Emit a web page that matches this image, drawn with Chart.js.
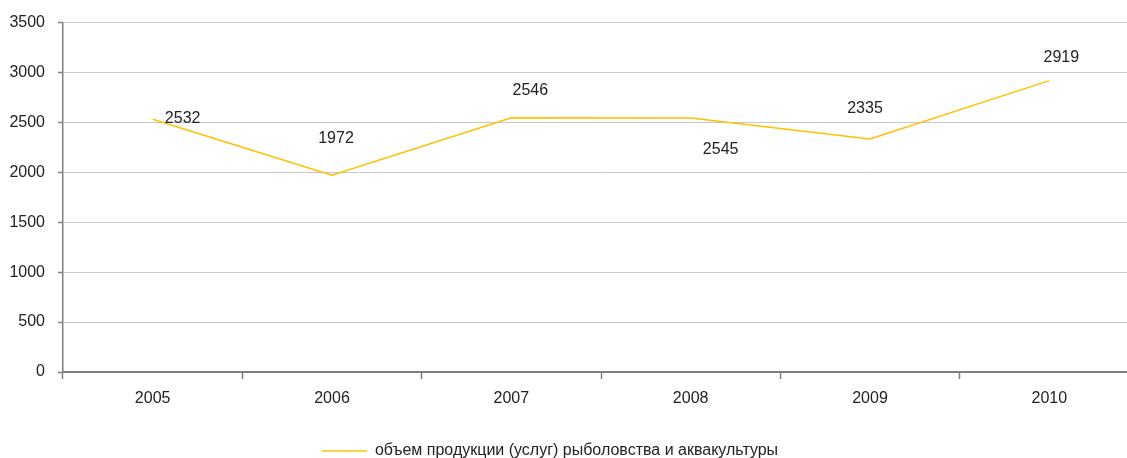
<!DOCTYPE html>
<html>
<head>
<meta charset="utf-8">
<script src="https://cdn.jsdelivr.net/npm/chart.js@4/dist/chart.umd.min.js"></script>
<style>
  html, body { margin:0; padding:0; background:#fff; overflow:hidden; }
  #wrap { width:1127px; height:458px; overflow:hidden; position:relative; }
  #fishChart { position:absolute; left:-39px; top:0; }
</style>
</head>
<body>
<div id="wrap"><canvas id="fishChart" width="1178" height="469"></canvas></div>
<script>
const years = ['2005', '2006', '2007', '2008', '2009', '2010'];
const volume = [2532, 1972, 2546, 2545, 2335, 2919];
const seriesName = 'объем продукции (услуг) рыболовства и аквакультуры';

const FONT = "'Liberation Sans', Arial, sans-serif";
const TEXT = '#222222';
const LINE = '#FFC000';

// where each value label sits relative to its point (px)
const labelShift = [[30, -1], [4, -37], [19, -27], [30, 32], [-5, -30], [12, -23]];

const valueLabels = {
  id: 'valueLabels',
  afterDatasetsDraw(chart){
    const ctx = chart.ctx;
    const meta = chart.getDatasetMeta(0);
    ctx.save();
    ctx.font = `16px ${FONT}`;
    ctx.fillStyle = TEXT;
    ctx.textAlign = 'center';
    ctx.textBaseline = 'middle';
    meta.data.forEach((pt, i)=>{
      const [dx, dy] = labelShift[i];
      ctx.fillText(String(volume[i]), pt.x + dx, pt.y + dy);
    });
    ctx.restore();
  }
};

Chart.defaults.font.family = FONT;
Chart.defaults.font.size = 16;
Chart.defaults.color = TEXT;

new Chart(document.getElementById('fishChart').getContext('2d'), {
  type: 'line',
  data: {
    labels: years,
    datasets: [{
      label: seriesName,
      data: volume,
      borderColor: LINE,
      backgroundColor: LINE,
      borderWidth: 1.5,
      pointRadius: 0,
      tension: 0
    }]
  },
  options: {
    responsive: false,
    animation: false,
    layout: { padding: { top: 21, left: 0, right: 0, bottom: 0 } },
    plugins: {
      legend: {
        position: 'bottom',
        labels: {
          usePointStyle: true,
          pointStyle: 'line',
          pointStyleWidth: 45,
          padding: 1,
          color: TEXT,
          font: { size: 16 }
        }
      },
      tooltip: { enabled: false }
    },
    scales: {
      x: {
        offset: true,
        afterFit(scale){ scale.height = 70; },
        grid: { offset: true, drawOnChartArea: false, tickLength: 7, tickColor: '#808080', tickWidth: 1.5 },
        border: { color: '#808080', width: 2 },
        ticks: { padding: 10, color: TEXT, font: { size: 16 } }
      },
      y: {
        min: 0,
        max: 3500,
        afterFit(scale){ scale.width = 102; },
        grid: { color: '#c8c8c8', lineWidth: 1, tickLength: 5, tickColor: '#808080', tickWidth: 1.5 },
        border: { color: '#808080', width: 1.5 },
        ticks: { stepSize: 500, padding: 13, color: TEXT, font: { size: 16 }, callback: v => String(v) }
      }
    }
  },
  plugins: [valueLabels]
});
</script>
</body>
</html>
